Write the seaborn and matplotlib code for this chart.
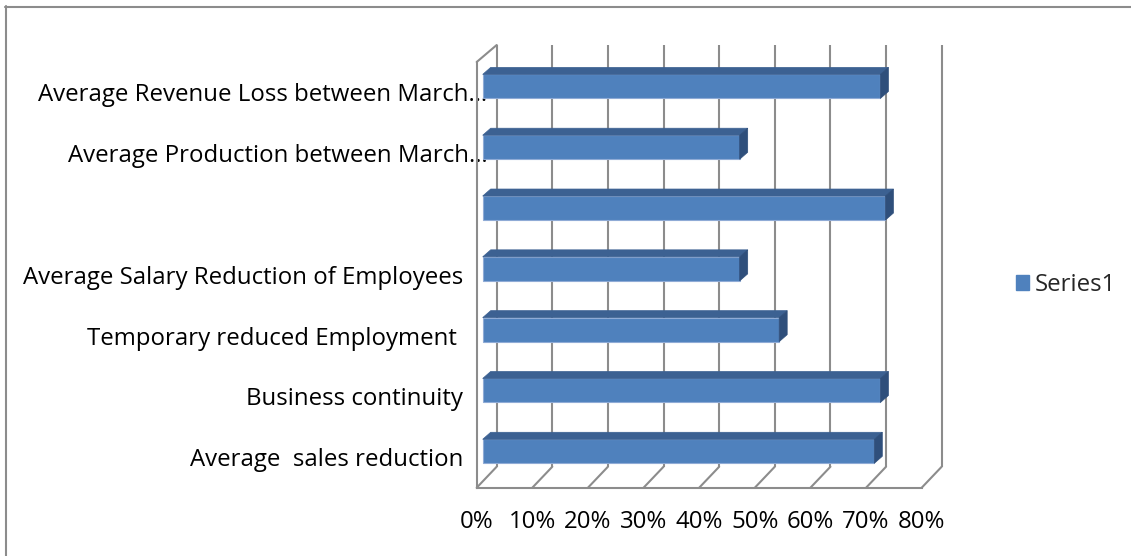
import numpy as np
import pandas as pd
import matplotlib
matplotlib.use("Agg")
import matplotlib.pyplot as plt
from matplotlib.lines import Line2D
from matplotlib.patches import Polygon, Patch
from matplotlib.transforms import ScaledTranslation
import seaborn as sns

# ---------------- data ----------------
categories = [
    "Average Revenue Loss between March…",
    "Average Production between March…",
    "",
    "Average Salary Reduction of Employees ",
    "Temporary reduced Employment  ",
    "Business continuity ",
    "Average  sales reduction ",
]
values = [0.715, 0.462, 0.724, 0.462, 0.533, 0.715, 0.704]
series_name = "Series1"
x_ticks = [0.0, 0.1, 0.2, 0.3, 0.4, 0.5, 0.6, 0.7, 0.8]
x_tick_labels = ["0%", "10%", "20%", "30%", "40%", "50%", "60%", "70%", "80%"]

# ---------------- style ----------------
sns.set_style("white")
plt.rcParams["font.family"] = ["Open Sans", "DejaVu Sans"]
FS = 17.3
GRID = "#8c8c8c"
FRONT = "#4f81bd"
TOP = "#3c6192"
SIDE = "#2f4f7b"

W_PX, H_PX, DPI = 1131, 556, 100
fig = plt.figure(figsize=(W_PX / DPI, H_PX / DPI), dpi=DPI)
fig.patch.set_facecolor("white")

# front plane of the 3-D box
left_px, right_px, top_px, bot_px = 476.7, 921.7, 62.0, 487.7
ax = fig.add_axes([left_px / W_PX, (H_PX - bot_px) / H_PX,
                   (right_px - left_px) / W_PX, (bot_px - top_px) / H_PX])

df = pd.DataFrame({"cat": categories, "val": values})
sns.barplot(data=df, x="val", y="cat", orient="h", color=FRONT, saturation=1,
            width=0.395, errorbar=None, edgecolor="#8fabd6", linewidth=0.8,
            ax=ax, zorder=3)

ax.set_xlim(0, 0.8)
ax.set_ylim(6.5, -0.5)
ax.set_xlabel("")
ax.set_ylabel("")

# pixel -> data conversions
px_x = 0.8 / (right_px - left_px)            # data units per pixel (x)
px_y = 7.0 / (bot_px - top_px)               # data units per pixel (y, downwards)

def off(xd, yd, dx_px, dy_px_up):
    return xd + dx_px * px_x, yd - dy_px_up * px_y

# offset bars to mid-depth and add 3-D faces
bar_dx, bar_dy = 6.0, 6.0      # front face offset (px right, px up)
dep_dx, dep_dy = 8.0, 7.0      # depth of bar
for p in ax.patches:
    x0, y0 = off(p.get_x(), p.get_y(), bar_dx, bar_dy)
    p.set_x(x0)
    p.set_y(y0)
    w, h = p.get_width(), p.get_height()
    x1 = x0 + w
    ytop, ybot = y0, y0 + h
    bx, by = dep_dx * px_x, -dep_dy * px_y
    top_face = Polygon([(x0, ytop), (x1, ytop), (x1 + bx, ytop + by), (x0 + bx, ytop + by)],
                       closed=True, facecolor=TOP, edgecolor=TOP, lw=0.5,
                       zorder=3, clip_on=False)
    side_face = Polygon([(x1, ytop), (x1 + bx, ytop + by), (x1 + bx, ybot + by), (x1, ybot)],
                        closed=True, facecolor=SIDE, edgecolor=SIDE, lw=0.5,
                        zorder=3, clip_on=False)
    ax.add_patch(top_face)
    ax.add_patch(side_face)
    p.set_clip_on(False)

# back wall and floor
back_dx, back_dy_bot, back_dy_top = 20.0, 21.0, 17.0
lw = 1.5
for xv in x_ticks:
    xb0, yb0 = off(xv, 6.5, back_dx, back_dy_bot)
    xb1, yb1 = off(xv, -0.5, back_dx + (1 if xv == 0 else 0), back_dy_top)
    ax.plot([xb0, xb0], [yb0, yb1], color=GRID, lw=lw, zorder=1, clip_on=False,
            solid_capstyle="butt")
    ax.plot([xv, xb0], [6.5, yb0], color=GRID, lw=lw, zorder=1, clip_on=False)
xl, yl = off(0, -0.5, back_dx, back_dy_top)
ax.plot([0, xl], [-0.5, yl], color=GRID, lw=lw, zorder=1, clip_on=False)

# spines & ticks
for s in ["top", "right"]:
    ax.spines[s].set_visible(False)
for s in ["left", "bottom"]:
    ax.spines[s].set_color(GRID)
    ax.spines[s].set_linewidth(lw)

ax.set_xticks(x_ticks, labels=x_tick_labels)
ax.tick_params(axis="x", direction="out", length=5.5, width=lw, color=GRID,
               labelsize=FS, pad=10.5, labelcolor="black")
ax.set_yticks(range(len(categories)), labels=categories)
ax.set_yticks(np.arange(-0.5, len(categories), 1.0), minor=True)
ax.tick_params(axis="y", which="major", length=0, labelsize=FS, pad=5.3,
               labelcolor="black")
ax.tick_params(axis="y", which="minor", direction="out", length=5, width=lw,
               color=GRID)
ax.grid(False)

# truncated labels sit slightly further right (as in the original)
for lab in ax.get_yticklabels():
    if lab.get_text().endswith("…"):
        lab.set_transform(lab.get_transform() +
                          ScaledTranslation(18 / DPI, 0, fig.dpi_scale_trans))

# legend
handle = Patch(facecolor=FRONT, edgecolor=FRONT)
fig.legend([handle], [series_name], loc="center left",
           bbox_to_anchor=(1016 / W_PX, 1 - 285 / H_PX), bbox_transform=fig.transFigure,
           frameon=False, fontsize=FS, handlelength=0.55, handleheight=0.55,
           handletextpad=0.25, borderpad=0, borderaxespad=0)

# outer border (top and left visible)
fig.add_artist(Line2D([5 / W_PX, 1.0], [1 - 6.5 / H_PX, 1 - 6.5 / H_PX],
                      transform=fig.transFigure, color=GRID, lw=1.5))
fig.add_artist(Line2D([6 / W_PX, 6 / W_PX], [0.0, 1 - 6 / H_PX],
                      transform=fig.transFigure, color=GRID, lw=1.5))

fig.savefig("out.png", dpi=DPI, facecolor="white")
